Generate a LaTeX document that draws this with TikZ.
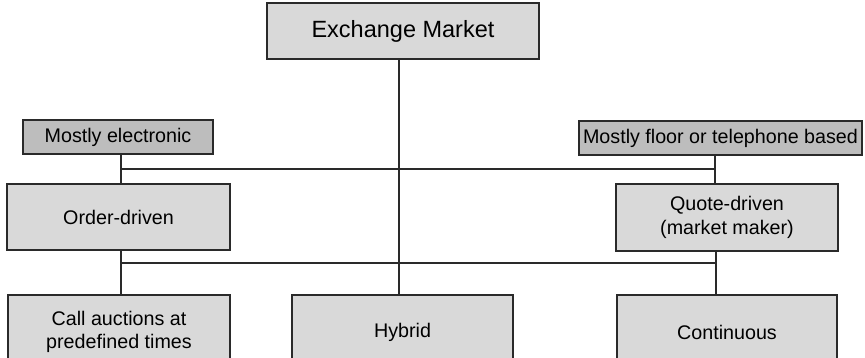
\documentclass[tikz,border=0pt]{standalone}
\usepackage{fontspec}
\setmainfont{Liberation Sans}
\definecolor{boxlight}{HTML}{D9D9D9}
\definecolor{boxdark}{HTML}{BDBDBD}
\definecolor{edge}{HTML}{2A2A2A}
\begin{document}
\begin{tikzpicture}[x=1pt,y=-1pt,
  box/.style={draw=edge, line width=1.2pt, fill=boxlight, inner sep=0pt,
    align=center, text=black, font=\fontsize{19.7}{23.5}\selectfont},
  tag/.style={box, fill=boxdark},
  link/.style={draw=edge, line width=1.2pt}]
\useasboundingbox (0,0) rectangle (865,357);
\clip (0,0) rectangle (865,357);

% top level
\node[box, minimum width=272pt, minimum height=56pt,
  font=\fontsize{23.5}{28}\selectfont] (ex) at (403,31) {Exchange Market};

% trading mechanism labels
\node[tag, minimum width=190pt, minimum height=34pt] (me) at (118,137) {Mostly electronic};
\node[tag, minimum width=283pt, minimum height=34pt] (mf) at (720.5,138) {Mostly floor or telephone based};

% market types
\node[box, minimum width=223pt, minimum height=66pt] (od) at (118.5,217) {Order-driven};
\node[box, minimum width=222pt, minimum height=67pt] (qd) at (727,217.5) {Quote-driven\\(market maker)};

% timing of trades
\node[box, minimum width=222pt, minimum height=74pt] (ca) at (119,332) {Call auctions at\\predefined times};
\node[box, minimum width=221pt, minimum height=74pt] (hy) at (402.5,332) {Hybrid};
\node[box, minimum width=220pt, minimum height=74pt] (co) at (727,332) {Continuous};

% junction points
\coordinate (j1) at (121,169);
\coordinate (j2) at (715,169);
\coordinate (j3) at (121,263);
\coordinate (j4) at (716,263);
\coordinate (cx) at (399,0);

% connectors
\draw[link] (cx |- ex.south) -- (cx |- hy.north);
\draw[link] (j1 |- me.south) -- (j1 |- od.north);
\draw[link] (j2 |- mf.south) -- (j2 |- qd.north);
\draw[link] (j1) -- (j2);
\draw[link] (j3 |- od.south) -- (j3 |- ca.north);
\draw[link] (j4 |- qd.south) -- (j4 |- co.north);
\draw[link] (j3) -- (j4);
\end{tikzpicture}
\end{document}
